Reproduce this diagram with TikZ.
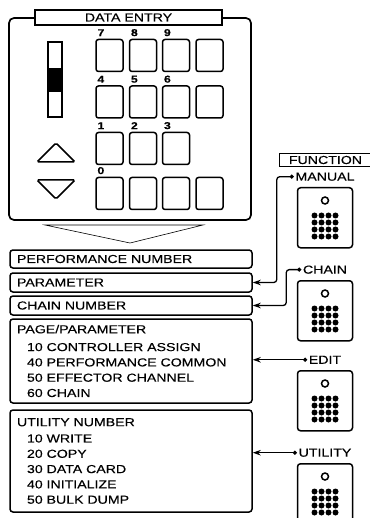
\documentclass[tikz,border=0pt]{standalone}
\usepackage{fontspec}
\setmainfont{Liberation Sans}[FakeStretch=1.22,FakeBold=0.25]
\usepackage{tikz}
\usetikzlibrary{positioning,arrows.meta}

\begin{document}
\begin{tikzpicture}[x=1pt,y=-1pt,line width=1.5pt,
  every node/.style={font=\fontsize{11.6pt}{15.3pt}\selectfont,inner sep=0pt},
  key/.style={draw,rounded corners=2.5pt,minimum width=27pt,minimum height=32pt},
  digit/.style={font=\fontsize{10pt}{10pt}\selectfont\bfseries,anchor=south west},
  listbox/.style={draw,rounded corners=3pt,text width=228pt,inner xsep=7pt,align=left},
  fbutton/.style={draw,rounded corners=3pt,minimum width=55pt,minimum height=60pt},
  conn/.style={{Circle[length=4pt]}-{Stealth[length=8pt,width=5.5pt]},line width=1.3pt,rounded corners=3pt}]
  \useasboundingbox (0,0) rectangle (369,518);
  % data entry panel
  \draw[rounded corners=5pt,line width=1.7pt] (9,18) rectangle (251,220);
  \node[draw,fill=white,line width=1.1pt,minimum width=187pt,minimum height=15pt] (title) at (128.5,17.5) {DATA ENTRY};
  \draw (48,42) rectangle (62,117);
  \fill (48,68) rectangle (62,92);
  \foreach \r/\y in {1/55.5,2/102,3/148.5,4/193.5}
    \foreach \c/\x in {1/109.5,2/143,3/176,4/209.5}
      {\ifnum\r\c=34\relax\else\node[key] (k\r\c) at (\x,\y) {};\fi}
  \foreach \d/\k in {7/11,8/12,9/13,4/21,5/22,6/23,1/31,2/32,3/33,0/41}
    \node[digit] at ([xshift=1.5pt,yshift=1.8pt]k\k.north west) {\d};
  \draw[rounded corners=1.5pt] (37,162) -- (56,143) -- (75,162) -- cycle;
  \draw[rounded corners=1.5pt] (37,180) -- (56,199) -- (75,180) -- cycle;
  \draw[line width=0.6pt] (45,225) -- (130,243) -- (203,225) -- cycle;
  % lists
  \node[listbox,minimum height=18pt] (perf) at (131,259) {PERFORMANCE NUMBER};
  \node[listbox,minimum height=19pt] (param) at (131,282.5) {PARAMETER};
  \node[listbox,minimum height=19pt] (chainno) at (131,305.5) {CHAIN NUMBER};
  \node[listbox,minimum height=84pt] (page) at (131,361) {PAGE/PARAMETER\\[2.5pt]
    \hspace*{10pt}10 CONTROLLER ASSIGN\\
    \hspace*{10pt}40 PERFORMANCE COMMON\\
    \hspace*{10pt}50 EFFECTOR CHANNEL\\
    \hspace*{10pt}60 CHAIN};
  \node[listbox,minimum height=102pt] (util) at (131,461) {UTILITY NUMBER\\[1pt]
    \hspace*{10pt}10 WRITE\\
    \hspace*{10pt}20 COPY\\
    \hspace*{10pt}30 DATA CARD\\
    \hspace*{10pt}40 INITIALIZE\\
    \hspace*{10pt}50 BULK DUMP};
  % function keys
  \node[draw,line width=1pt,minimum width=92pt,minimum height=13pt,anchor=west] (fhead) at (279,160) {FUNCTION};
  \foreach \n/\t/\y in {man/MANUAL/187,chn/CHAIN/280,edt/EDIT/370,utl/UTILITY/463} {
    \node[fbutton,anchor=north] (b\n) at (325,\y) {};
    \node[above=5.5pt of b\n] (l\n) {\t};
    \begin{scope}[shift={(b\n.north)}]
      \draw (0,13.5) circle (3.5);
      \foreach \i in {0,...,3}
        \foreach \j in {0,...,3}
          \fill (-10.5+7*\i,28.5+7*\j) circle (3);
    \end{scope}
  }
  \draw[conn] ([xshift=-1pt]lman.west) -- ++(-17,0) |- (param.east);
  \draw[conn] ([xshift=-1pt]lchn.west) -- ++(-15,0) |- (chainno.east);
  \draw[conn] ([xshift=-1pt]ledt.west) -- (page.east |- ledt.west);
  \draw[conn] ([xshift=-1pt]lutl.west) -- (util.east |- lutl.west);
\end{tikzpicture}
\end{document}
